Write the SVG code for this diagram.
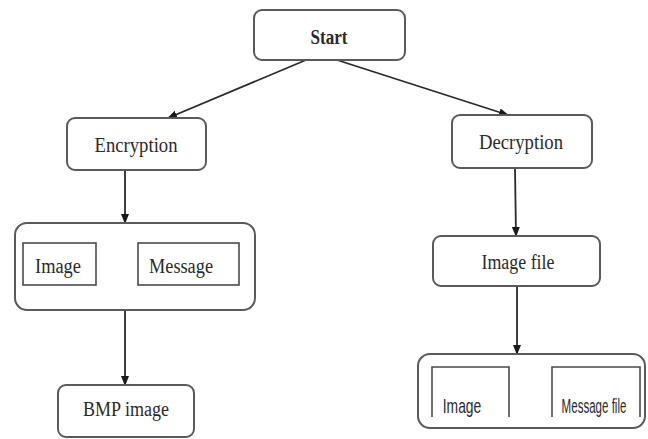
<svg xmlns="http://www.w3.org/2000/svg" width="648" height="439" viewBox="0 0 648 439">
<defs>
<style>
.box{fill:#fff;stroke:#5a5a5a;stroke-width:2}
.inner{fill:none;stroke:#4a4a4a;stroke-width:1.6}
.t{font-family:"Liberation Serif","Times New Roman",serif;font-size:20px;fill:#2a2a2a;text-anchor:middle}
.s{font-family:"Liberation Sans",Arial,sans-serif;font-size:21px;fill:#2a2a2a;text-anchor:middle}
.c{stroke:#2a2a2a;stroke-width:1.8;fill:none}
</style>
<marker id="ah" markerWidth="10" markerHeight="10" refX="9" refY="5" orient="auto" markerUnits="userSpaceOnUse">
<path d="M0,1 L10,5 L0,9 Z" fill="#1a1a1a"/>
</marker>
</defs>
<rect width="648" height="439" fill="#fff"/>
<g id="connectors">
<line class="c" x1="306" y1="60" x2="168" y2="118" marker-end="url(#ah)"/>
<line class="c" x1="337" y1="60" x2="508" y2="115" marker-end="url(#ah)"/>
<line class="c" x1="125" y1="170" x2="125" y2="223" marker-end="url(#ah)"/>
<line class="c" x1="96" y1="260" x2="138" y2="260"/>
<line class="c" x1="125" y1="310" x2="125" y2="385" marker-end="url(#ah)"/>
<line class="c" x1="515" y1="168" x2="516" y2="236" marker-end="url(#ah)"/>
<line class="c" x1="517" y1="286" x2="517" y2="354" marker-end="url(#ah)"/>
</g>
<g id="start">
<rect class="box" x="254" y="10" width="151" height="50" rx="8"/>
<text class="t" x="329" y="44" font-weight="bold" font-size="18" textLength="37" lengthAdjust="spacingAndGlyphs">Start</text>
</g>
<g id="encryption">
<rect class="box" x="67" y="118" width="139" height="52" rx="8"/>
<text class="t" x="136" y="152" textLength="83" lengthAdjust="spacingAndGlyphs">Encryption</text>
</g>
<g id="decryption">
<rect class="box" x="452" y="115" width="140" height="53" rx="8"/>
<text class="t" x="521" y="149" textLength="84" lengthAdjust="spacingAndGlyphs">Decryption</text>
</g>
<g id="enc-group">
<rect class="box" x="15" y="223" width="240" height="87" rx="12"/>
<rect class="inner" x="23" y="243" width="73" height="42"/>
<text class="t" x="58" y="273" textLength="46" lengthAdjust="spacingAndGlyphs">Image</text>
<rect class="inner" x="138" y="243" width="101" height="42"/>
<text class="t" x="181" y="273" textLength="64" lengthAdjust="spacingAndGlyphs">Message</text>
</g>
<g id="bmp">
<rect class="box" x="58" y="385" width="136" height="52" rx="8"/>
<text class="t" x="126" y="416" textLength="86" lengthAdjust="spacingAndGlyphs">BMP image</text>
</g>
<g id="imagefile">
<rect class="box" x="433" y="236" width="167" height="50" rx="8"/>
<text class="t" x="518" y="269" textLength="73" lengthAdjust="spacingAndGlyphs">Image file</text>
</g>
<g id="dec-group">
<rect class="box" x="418" y="354" width="227" height="74" rx="12"/>
<path class="inner" d="M432,417 V367 H509 V417"/>
<text class="s" transform="translate(462,413) scale(0.66,1)">Image</text>
<path class="inner" d="M552,417 V367 H640 V417"/>
<text class="s" transform="translate(594,413) scale(0.55,1)">Message file</text>
</g>
</svg>
